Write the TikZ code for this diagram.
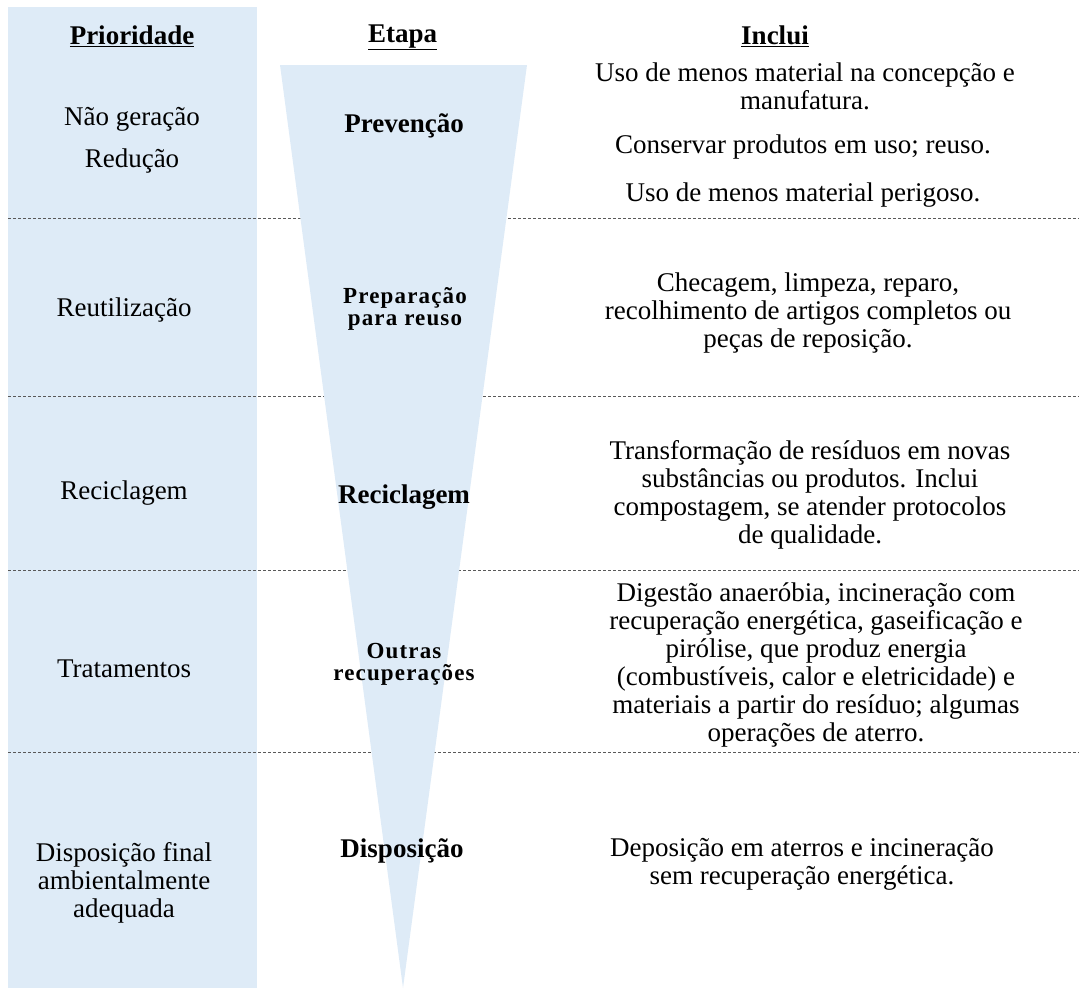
\documentclass[tikz,border=0pt]{standalone}
\usepackage{fontspec}
\setmainfont{Liberation Serif}

\definecolor{hierarchyBlue}{RGB}{222,235,247}
\def\sectionSeparators{218,396,570,752}

\tikzset{
  bodytext/.style={font=\fontsize{27}{28}\selectfont, align=center, inner sep=0pt},
  stagetext/.style={font=\fontsize{27}{28}\selectfont\bfseries, align=center, inner sep=0pt},
  smallstage/.style={font=\fontsize{23}{22}\selectfont\bfseries\addfontfeature{LetterSpace=5}, align=center, inner sep=0pt},
  headertext/.style={font=\fontsize{27}{28}\selectfont\bfseries, inner sep=0pt},
}

\begin{document}
\begin{tikzpicture}[x=1pt,y=-1pt]
            \useasboundingbox (0,0) rectangle (1079,988);

            \fill [hierarchyBlue] (8,7) rectangle (257,988);

            \foreach \y in \sectionSeparators{%
                    \draw [black!65, dash pattern=on 3pt off 2pt] (8,\y) -- (1079,\y);
                }

            \fill [hierarchyBlue] (280,65) -- (527,65) -- (403,988) -- cycle;

            \node [headertext] (prioridadeHead) at (132,36) {\underline{Prioridade}};
            \node [headertext] (stageHead) at (402.6,37.3) {\underline{Etapa}};
            \node [headertext] (incluiHead) at (775,36) {\underline{Inclui}};

            \node [bodytext] (naoGeracao) at (132,119) {Não geração};
            \node [bodytext] (reducao) at (132,161) {Redução};
            \node [bodytext] (reutilizacao) at (124,310) {Reutilização};
            \node [bodytext] (reciclagemPrior) at (124,493) {Reciclagem};
            \node [bodytext] (tratamentos) at (124,669) {Tratamentos};
            \node [bodytext] (disposicaoFinal) at (124,883) {Disposição final\\ambientalmente\\adequada};

            \node [stagetext] (prevencao) at (404,126) {Prevenção};
            \node [smallstage] (preparacao) at (405,309) {Preparação\\para reuso};
            \node [stagetext] (reciclagem) at (404,497) {Reciclagem};
            \node [smallstage] (outrasRecup) at (404,664) {Outras\\recuperações};
            \node [stagetext] (disposicao) at (402,851) {Disposição};

            \node [bodytext] (usoMenos) at (805,86) {Uso de menos material na concepção e\\manufatura.};
            \node [bodytext] (conservar) at (803,147) {Conservar produtos em uso; reuso.};
            \node [bodytext] (usoPerigoso) at (803,195) {Uso de menos material perigoso.};
            \node [bodytext] (checagem) at (808,313) {Checagem, limpeza, reparo,\\recolhimento de artigos completos ou\\peças de reposição.};
            \node [bodytext] (transformacao) at (810,495) {Transformação de resíduos em novas\\substâncias ou produtos. Inclui\\compostagem, se atender protocolos\\de qualidade.};
            \node [bodytext] (digestao) at (816,665) {Digestão anaeróbia, incineração com\\recuperação energética, gaseificação e\\pirólise, que produz energia\\(combustíveis, calor e eletricidade) e\\materiais a partir do resíduo; algumas\\operações de aterro.};
            \node [bodytext] (deposicao) at (802,864) {Deposição em aterros e incineração\\sem recuperação energética.};
        \end{tikzpicture}
\end{document}
